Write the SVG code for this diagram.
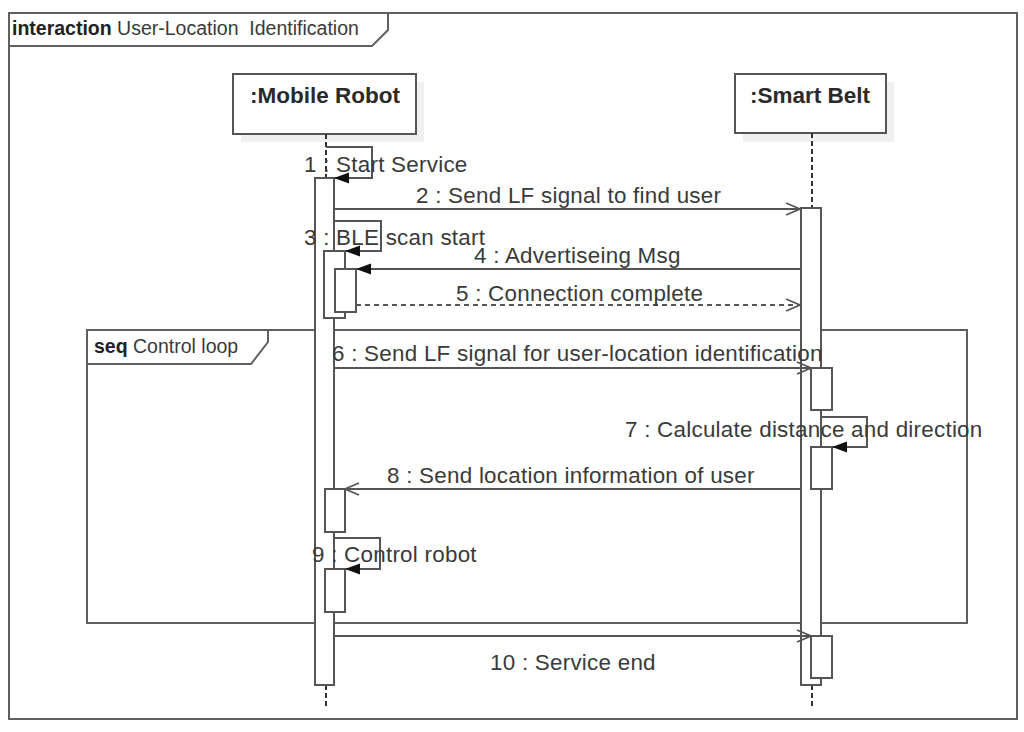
<svg xmlns="http://www.w3.org/2000/svg" width="1024" height="732" viewBox="0 0 1024 732">
<style>
  .frame { fill: none; stroke: #5f5f5f; stroke-width: 2; }
  .tab { fill: #fff; stroke: #5f5f5f; stroke-width: 2; }
  .node { fill: #fff; stroke: #555; stroke-width: 2; }
  .shadow { fill: #f0f0f0; }
  .life { stroke: #333; stroke-width: 2; stroke-dasharray: 5 3; fill: none; }
  .act { fill: #fff; stroke: #555; stroke-width: 2; }
  .msg { fill: none; stroke: #555; stroke-width: 2; }
  .dash { stroke-dasharray: 5 4; }
  .lbl { font-family: "Liberation Sans", Arial, sans-serif; font-size: 22.4px; letter-spacing: 0.25px; fill: #3a3a3a; }
  .name { font-family: "Liberation Sans", Arial, sans-serif; font-size: 22.5px; font-weight: bold; fill: #2a2a2a; text-anchor: middle; }
  .ttl { font-family: "Liberation Sans", Arial, sans-serif; font-size: 19.5px; fill: #3a3a3a; }
  .b { font-weight: bold; fill: #222; }
</style>
<defs>
  <marker id="filled" markerWidth="17" markerHeight="13" refX="15" refY="6" orient="auto" markerUnits="userSpaceOnUse" overflow="visible">
    <path d="M0,0.5 L15,6 L0,11.5 z" fill="#111"/>
  </marker>
  <marker id="open" markerWidth="17" markerHeight="15" refX="15" refY="7" orient="auto" markerUnits="userSpaceOnUse" overflow="visible">
    <path d="M1,1 L15,7 L1,13" fill="none" stroke="#555" stroke-width="1.8"/>
  </marker>
</defs>
<rect width="1024" height="732" fill="#fff"/>

<g id="frame-interaction">
  <rect class="frame" x="9" y="13" width="1008" height="706"/>
  <path class="tab" d="M9,13 H388 V30 L372,46 H9 Z"/>
  <text class="ttl" x="12" y="35"><tspan class="b">interaction</tspan> User-Location&#160; Identification</text>
</g>

<g id="frame-seq">
  <rect class="frame" x="87" y="330" width="880" height="293"/>
  <path class="tab" d="M87,330 H268 V342 L251,364 H87 Z"/>
  <text class="ttl" x="94" y="353"><tspan class="b">seq</tspan> Control loop</text>
</g>

<g id="node-mobile-robot">
  <rect class="shadow" x="241" y="82" width="183" height="60"/>
  <rect class="node" x="233" y="74" width="183" height="60"/>
  <text class="name" x="325" y="103">:Mobile Robot</text>
  <path class="life" d="M326,134 V178 M326,685 V708"/>
  <rect class="act" x="315" y="178" width="19" height="507"/>
  <rect class="act" x="324" y="251" width="21" height="67"/>
  <rect class="act" x="335" y="269" width="21" height="43"/>
  <rect class="act" x="325" y="489" width="20" height="43"/>
  <rect class="act" x="325" y="569" width="20" height="43"/>
</g>

<g id="node-smart-belt">
  <rect class="shadow" x="743" y="82" width="151" height="60"/>
  <rect class="node" x="735" y="74" width="151" height="59"/>
  <text class="name" x="810" y="103">:Smart Belt</text>
  <path class="life" d="M812,133 V208 M812,685 V708"/>
  <rect class="act" x="801" y="208" width="20" height="477"/>
  <rect class="act" x="811" y="368" width="21" height="42"/>
  <rect class="act" x="811" y="447" width="21" height="42"/>
  <rect class="act" x="811" y="636" width="21" height="42"/>
</g>

<g id="connectors">
  <path class="msg" d="M326,147 H372 V178 H334" marker-end="url(#filled)"/>
  <path class="msg" d="M334,209 H800" marker-end="url(#open)"/>
  <path class="msg" d="M334,221 H381 V251 H345" marker-end="url(#filled)"/>
  <path class="msg" d="M800,269 H356" marker-end="url(#filled)"/>
  <path class="msg dash" d="M356,305 H800" marker-end="url(#open)"/>
  <path class="msg" d="M335,368 H811" marker-end="url(#open)"/>
  <path class="msg" d="M821,417 H867 V447 H832" marker-end="url(#filled)"/>
  <path class="msg" d="M800,489 H345" marker-end="url(#open)"/>
  <path class="msg" d="M334,538 H380 V569 H345" marker-end="url(#filled)"/>
  <path class="msg" d="M334,636 H811" marker-end="url(#open)"/>
</g>

<g id="labels">
  <text class="lbl" x="304" y="172">1 : Start Service</text>
  <text class="lbl" x="416" y="203">2 : Send LF signal to find user</text>
  <text class="lbl" x="304" y="245">3 : BLE scan start</text>
  <text class="lbl" x="474" y="263">4 : Advertiseing Msg</text>
  <text class="lbl" x="456" y="301">5 : Connection complete</text>
  <text class="lbl" x="332" y="361">6 : Send LF signal for user-location identification</text>
  <text class="lbl" x="625" y="437">7 : Calculate distance and direction</text>
  <text class="lbl" x="387" y="483">8 : Send location information of user</text>
  <text class="lbl" x="312" y="562">9 : Control robot</text>
  <text class="lbl" x="490" y="670">10 : Service end</text>
</g>
</svg>
